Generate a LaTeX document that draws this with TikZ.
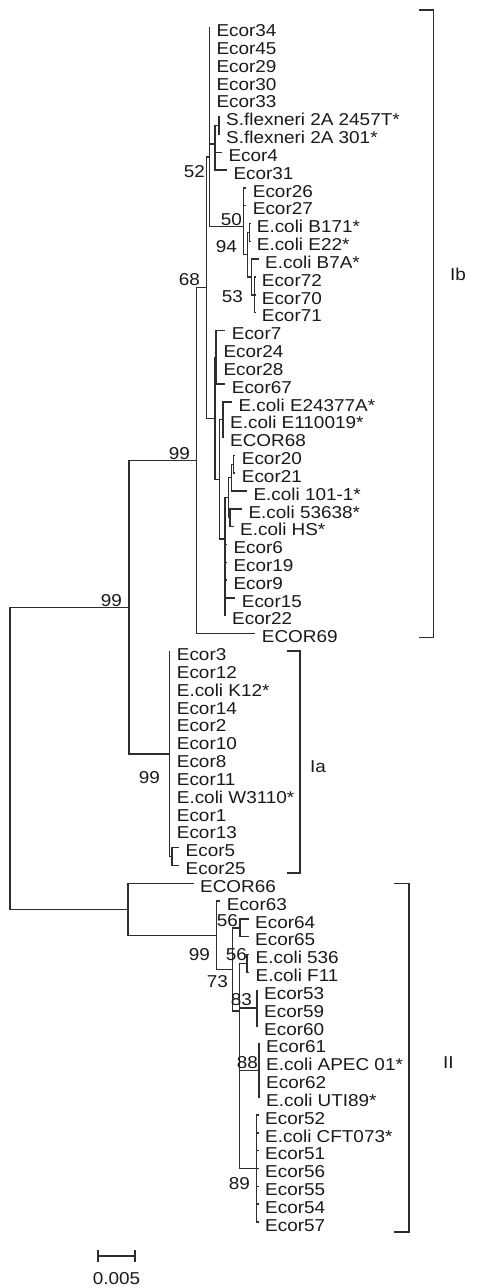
\documentclass[tikz,border=0pt]{standalone}
\usepackage{fontspec}
\setmainfont{Liberation Sans}[FakeStretch=1.1]
\newcommand\lbl{\fontsize{17.2}{20}\selectfont}
\newcommand\lf[4]{\coordinate (#1) at (#2,{27.4+17.83*#3}); \node[lab] (#1t) at ([xshift=7pt,yshift=-9.2pt]#1) {#4};}
\begin{document}
\begin{tikzpicture}[x=1pt,y=-1pt,
  br/.style={line width=1.4pt, draw=black!82, line cap=rect},
  brk/.style={line width=1.6pt, draw=black!82},
  lab/.style={anchor=base west, inner sep=0pt, font=\lbl, text=black!90},
  bs/.style={anchor=east, inner sep=0pt, font=\lbl, text=black!90},
  grp/.style={anchor=west, inner sep=0pt, font=\lbl, text=black!90}]
\useasboundingbox (0,0) rectangle (477,1288);
% internal nodes
\coordinate (R) at (10,758.25);
\coordinate (A) at (129,607.3);
\coordinate (Ib) at (196.7,460.6);
\coordinate (N68) at (206.7,287.6);
\coordinate (N52) at (209.3,157);
\coordinate (SFg) at (215,144);
\coordinate (SFc) at (219,125.5);
\coordinate (N50) at (243.3,226.7);
\coordinate (N94) at (247.5,254.7);
\coordinate (BE) at (249.5,232.45);
\coordinate (N53) at (251.7,277.05);
\coordinate (C72) at (254.5,294.9);
\coordinate (Nb) at (215,418.3);
\coordinate (Nc) at (216,357.25);
\coordinate (Nd) at (219.3,479.3);
\coordinate (Ne) at (223,419.7);
\coordinate (Nf) at (225,538.9);
\coordinate (Ng) at (228.3,497.7);
\coordinate (Ng1) at (231.7,477.6);
\coordinate (Ni) at (233.5,464.25);
\coordinate (Nj) at (230,517.7);
\coordinate (Nh) at (225,580.15);
\coordinate (Ia) at (169.7,754);
\coordinate (N525) at (172,856.5);
\coordinate (B) at (128,909.2);
\coordinate (II) at (216.7,935.25);
\coordinate (N73) at (232.7,969.4);
\coordinate (N56a) at (240,927.8);
\coordinate (Nz) at (239.3,1011);
\coordinate (N56b) at (247,963.5);
\coordinate (N83) at (257,1008.1);
\coordinate (N88) at (259,1070.45);
\coordinate (N89) at (256.7,1168.5);
% leaves
\lf{l0}{209.3}{0}{Ecor34}
\lf{l1}{209.3}{1}{Ecor45}
\lf{l2}{209.3}{2}{Ecor29}
\lf{l3}{209.3}{3}{Ecor30}
\lf{l4}{209.3}{4}{Ecor33}
\lf{l5}{219}{5}{S.flexneri 2A 2457T*}
\lf{l6}{219}{6}{S.flexneri 2A 301*}
\lf{l7}{221.3}{7}{Ecor4}
\lf{l8}{226.3}{8}{Ecor31}
\lf{l9}{245.7}{9}{Ecor26}
\lf{l10}{245.7}{10}{Ecor27}
\lf{l11}{249.7}{11}{E.coli B171*}
\lf{l12}{249.7}{12}{E.coli E22*}
\lf{l13}{258}{13}{E.coli B7A*}
\lf{l14}{254.7}{14}{Ecor72}
\lf{l15}{254.7}{15}{Ecor70}
\lf{l16}{254.7}{16}{Ecor71}
\lf{l17}{224.7}{17}{Ecor7}
\lf{l18}{216.3}{18}{Ecor24}
\lf{l19}{216.3}{19}{Ecor28}
\lf{l20}{224.7}{20}{Ecor67}
\lf{l21}{231.3}{21}{E.coli E24377A*}
\lf{l22}{223}{22}{E.coli E110019*}
\lf{l23}{223}{23}{ECOR68}
\lf{l24}{234.7}{24}{Ecor20}
\lf{l25}{234.7}{25}{Ecor21}
\lf{l26}{246.3}{26}{E.coli 101-1*}
\lf{l27}{241.3}{27}{E.coli 53638*}
\lf{l28}{233}{28}{E.coli HS*}
\lf{l29}{226.3}{29}{Ecor6}
\lf{l30}{226.3}{30}{Ecor19}
\lf{l31}{226.3}{31}{Ecor9}
\lf{l32}{234.7}{32}{Ecor15}
\lf{l33}{225}{33}{Ecor22}
\lf{l34}{254.7}{34}{ECOR69}
\lf{l35}{169.7}{35}{Ecor3}
\lf{l36}{169.7}{36}{Ecor12}
\lf{l37}{169.7}{37}{E.coli K12*}
\lf{l38}{169.7}{38}{Ecor14}
\lf{l39}{169.7}{39}{Ecor2}
\lf{l40}{169.7}{40}{Ecor10}
\lf{l41}{169.7}{41}{Ecor8}
\lf{l42}{169.7}{42}{Ecor11}
\lf{l43}{169.7}{43}{E.coli W3110*}
\lf{l44}{169.7}{44}{Ecor1}
\lf{l45}{169.7}{45}{Ecor13}
\lf{l46}{178.5}{46}{Ecor5}
\lf{l47}{178.5}{47}{Ecor25}
\lf{l48}{193}{48}{ECOR66}
\lf{l49}{219.7}{49}{Ecor63}
\lf{l50}{248}{50}{Ecor64}
\lf{l51}{248}{51}{Ecor65}
\lf{l52}{248.5}{52}{E.coli 536}
\lf{l53}{248.5}{53}{E.coli F11}
\lf{l54}{257}{54}{Ecor53}
\lf{l55}{257}{55}{Ecor59}
\lf{l56}{257}{56}{Ecor60}
\lf{l57}{259}{57}{Ecor61}
\lf{l58}{259}{58}{E.coli APEC 01*}
\lf{l59}{259}{59}{Ecor62}
\lf{l60}{259}{60}{E.coli UTI89*}
\lf{l61}{258}{61}{Ecor52}
\lf{l62}{258}{62}{E.coli CFT073*}
\lf{l63}{258}{63}{Ecor51}
\lf{l64}{258}{64}{Ecor56}
\lf{l65}{258}{65}{Ecor55}
\lf{l66}{258}{66}{Ecor54}
\lf{l67}{258}{67}{Ecor57}
% branches
\foreach \p/\c in {R/A,R/B,A/Ib,A/Ia,Ib/N68,Ib/l34,N68/N52,N68/Nb,
  N52/l0,N52/l1,N52/l2,N52/l3,N52/l4,N52/SFg,N52/N50,
  SFg/SFc,SFg/l7,SFg/l8,SFc/l5,SFc/l6,
  N50/l9,N50/l10,N50/N94,N94/BE,N94/N53,BE/l11,BE/l12,N53/l13,N53/C72,
  C72/l14,C72/l15,C72/l16,
  Nb/Nc,Nb/Nd,Nc/l17,Nc/l18,Nc/l19,Nc/l20,Nd/Ne,Nd/Nf,
  Ne/l21,Ne/l22,Ne/l23,Nf/Ng,Nf/Nh,Ng/Ng1,Ng/Nj,Ng1/Ni,Ng1/l26,
  Ni/l24,Ni/l25,Nj/l27,Nj/l28,Nh/l29,Nh/l30,Nh/l31,Nh/l32,Nh/l33,
  Ia/l35,Ia/l36,Ia/l37,Ia/l38,Ia/l39,Ia/l40,Ia/l41,Ia/l42,Ia/l43,Ia/l44,Ia/l45,Ia/N525,
  N525/l46,N525/l47,
  B/l48,B/II,II/l49,II/N73,N73/N56a,N73/Nz,N56a/l50,N56a/l51,
  Nz/N56b,Nz/N83,Nz/N88,Nz/N89,N56b/l52,N56b/l53,
  N83/l54,N83/l55,N83/l56,N88/l57,N88/l58,N88/l59,N88/l60,
  N89/l61,N89/l62,N89/l63,N89/l64,N89/l65,N89/l66,N89/l67}
  {\draw[br] (\p) |- (\c);}
% bootstrap values
\node[bs] (bA) at (122,600.5) {99};
\node[bs] (bIb) at (190,454) {99};
\node[bs] (b68) at (200,280) {68};
\node[bs] (b52) at (205,171.7) {52};
\node[bs] (b50) at (242,220) {50};
\node[bs] (b94) at (237,246.7) {94};
\node[bs] (b53) at (243,296.7) {53};
\node[bs] (bIa) at (160,778) {99};
\node[bs] (bII) at (210,955) {99};
\node[bs] (b56a) at (238,921) {56};
\node[bs] (b73) at (228,981.7) {73};
\node[bs] (b56b) at (247,955) {56};
\node[bs] (b83) at (252,1000) {83};
\node[bs] (b88) at (258,1063) {88};
\node[bs] (b89) at (250,1183.3) {89};
% group brackets
\coordinate (kIb1) at (419,10); \coordinate (kIb2) at (433.5,637.3); \coordinate (kIb3) at (419,637.3);
\draw[brk] (kIb1) -| (kIb2) -- (kIb3);
\coordinate (kIa1) at (286.7,650.7); \coordinate (kIa2) at (300,872.7); \coordinate (kIa3) at (286.7,872.7);
\draw[brk] (kIa1) -| (kIa2) -- (kIa3);
\coordinate (kII1) at (394,883.3); \coordinate (kII2) at (409,1232); \coordinate (kII3) at (394,1232);
\draw[brk] (kII1) -| (kII2) -- (kII3);
\node[grp] (gIb) at (450,274) {Ib};
\node[grp] (gIa) at (310,766.7) {Ia};
\node[grp] (gII) at (443,1063) {II};
% scale bar
\coordinate (s1) at (98,1256); \coordinate (s2) at (135,1256);
\draw[br] (s1) -- (s2);
\draw[br] ([yshift=5pt]s1) -- ([yshift=-5pt]s1);
\draw[br] ([yshift=5pt]s2) -- ([yshift=-5pt]s2);
\node[inner sep=0pt, font=\lbl, text=black!90] (sl) at (116.5,1278.3) {0.005};
\end{tikzpicture}
\end{document}
